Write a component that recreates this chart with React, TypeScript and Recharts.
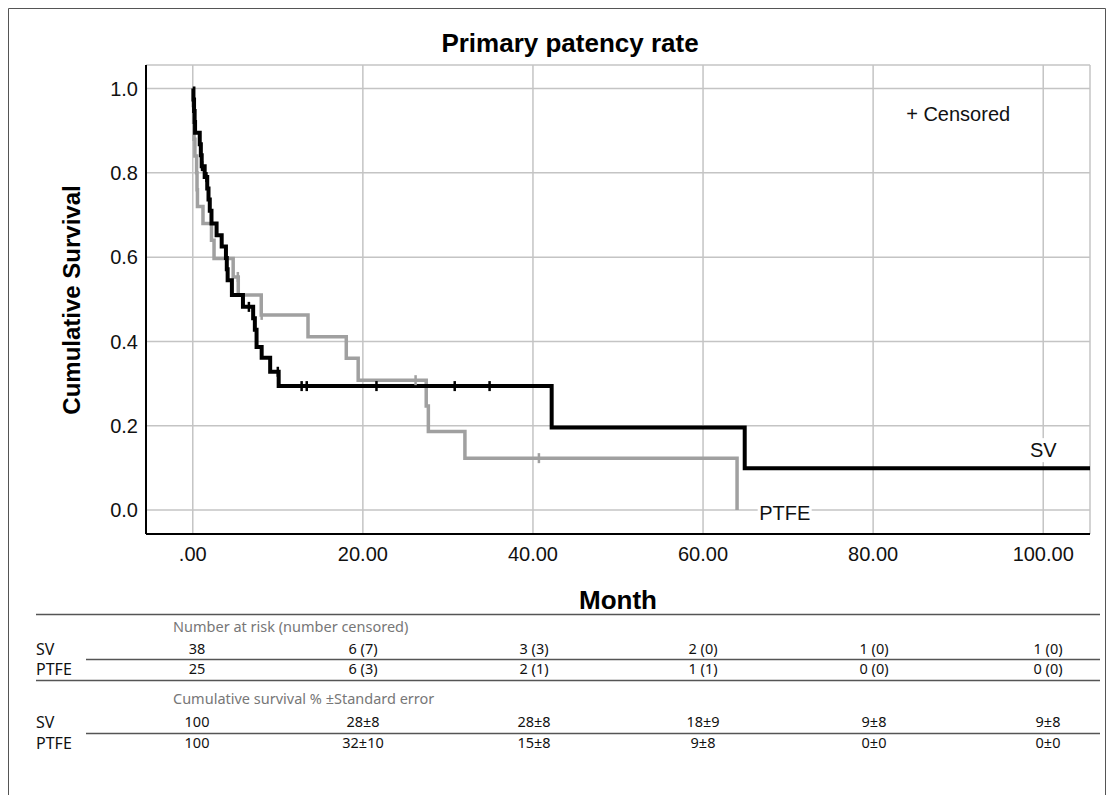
import React from 'react';
import {
  ComposedChart,
  Line,
  Scatter,
  XAxis,
  YAxis,
  CartesianGrid,
  ReferenceDot,
} from 'recharts';

// Kaplan-Meier steps (time in months, cumulative survival)
const svTime = [0, 0.08, 0.15, 0.22, 0.27, 0.82, 0.95, 1.05, 1.4, 1.7, 1.85, 2.0, 2.2, 2.8, 3.4, 3.9, 4.0, 4.1, 4.6, 5.9, 7.1, 7.3, 7.5, 8.1, 9.1, 10.1, 42.2, 64.9, 105.5];
const svSurv = [1.0, 0.974, 0.947, 0.921, 0.895, 0.868, 0.842, 0.816, 0.79, 0.763, 0.737, 0.71, 0.68, 0.652, 0.625, 0.598, 0.571, 0.545, 0.51, 0.482, 0.455, 0.428, 0.387, 0.361, 0.328, 0.294, 0.196, 0.099, 0.099];
const svCensorTime = [1.09, 1.61, 6.6, 10.0, 12.8, 13.4, 21.6, 30.8, 34.9];
const svCensorSurv = [0.816, 0.79, 0.482, 0.328, 0.294, 0.294, 0.294, 0.294, 0.294];

const ptfeTime = [0, 0.05, 0.1, 0.15, 0.25, 0.45, 0.5, 0.55, 1.2, 2.2, 2.5, 4.75, 5.35, 8.05, 13.55, 18.05, 19.45, 27.45, 27.7, 32.0, 64.0];
const ptfeSurv = [1.0, 0.96, 0.92, 0.88, 0.84, 0.8, 0.76, 0.72, 0.68, 0.64, 0.597, 0.553, 0.51, 0.463, 0.411, 0.36, 0.308, 0.247, 0.186, 0.123, 0.0];
const ptfeCensorTime = [5.3, 8.1, 26.2, 40.7];
const ptfeCensorSurv = [0.553, 0.463, 0.308, 0.123];

const xTicks = [0, 20, 40, 60, 80, 100];
const yTicks = [0, 0.2, 0.4, 0.6, 0.8, 1.0];

// risk table
const groups = ['SV', 'PTFE'];
const svAtRisk = ['38', '6 (7)', '3 (3)', '2 (0)', '1 (0)', '1 (0)'];
const ptfeAtRisk = ['25', '6 (3)', '2 (1)', '1 (1)', '0 (0)', '0 (0)'];
const svSurvPct = ['100', '28±8', '28±8', '18±9', '9±8', '9±8'];
const ptfeSurvPct = ['100', '32±10', '15±8', '9±8', '0±0', '0±0'];

const svData = svTime.map((t, i) => ({ t, s: svSurv[i] }));
const ptfeData = ptfeTime.map((t, i) => ({ t, s: ptfeSurv[i] }));
const svCensor = svCensorTime.map((t, i) => ({ t, s: svCensorSurv[i] }));
const ptfeCensor = ptfeCensorTime.map((t, i) => ({ t, s: ptfeCensorSurv[i] }));

const BLACK = '#000000';
const GREY = '#a0a0a0';
const CHART_FONT = '"Liberation Sans", Arial, sans-serif';
const TABLE_FONT = '"Noto Sans", "Open Sans", sans-serif';

const censorTick = (color: string) => (props: any) => {
  const { cx, cy } = props;
  if (cx == null || cy == null) return <g />;
  return <line x1={cx} x2={cx} y1={cy - 5} y2={cy + 5} stroke={color} strokeWidth={2.5} />;
};

const textLabel = (text: string, boxed: boolean) => (props: any) => {
  const { cx, cy } = props;
  const w = text.length * 12 + 6;
  return (
    <g>
      {boxed && <rect x={cx - w / 2} y={cy - 12} width={w} height={24} fill="#fff" />}
      <text x={cx} y={cy} dy="0.35em" textAnchor="middle" fontSize={20} fontFamily={CHART_FONT} fill="#111">
        {text}
      </text>
    </g>
  );
};

const colCenters = [197, 363, 534, 703, 874, 1048];

function RiskTable() {
  const rows = [
    { y: 649, label: groups[0], vals: svAtRisk },
    { y: 669, label: groups[1], vals: ptfeAtRisk },
    { y: 722, label: groups[0], vals: svSurvPct },
    { y: 743, label: groups[1], vals: ptfeSurvPct },
  ];
  return (
    <g fontFamily={TABLE_FONT}>
      <line x1={36} x2={1100} y1={614.5} y2={614.5} stroke="#555" strokeWidth={1.5} />
      <text x={173} y={627} dy="0.35em" fontSize={14.5} fill="#777">
        Number at risk (number censored)
      </text>
      <line x1={86} x2={1100} y1={659.5} y2={659.5} stroke="#555" strokeWidth={1.5} />
      <line x1={36} x2={1100} y1={680.5} y2={680.5} stroke="#555" strokeWidth={1.5} />
      <text x={173} y={699} dy="0.35em" fontSize={14.5} fill="#777">
        Cumulative survival % ±Standard error
      </text>
      <line x1={86} x2={1100} y1={733.5} y2={733.5} stroke="#555" strokeWidth={1.5} />
      {rows.map((r, ri) => (
        <g key={ri}>
          <text x={36} y={r.y} dy="0.35em" fontSize={16} fill="#111">
            {r.label}
          </text>
          {r.vals.map((v, i) => (
            <text key={i} x={colCenters[i]} y={r.y} dy="0.35em" textAnchor="middle" fontSize={14.5} fill="#111">
              {v}
            </text>
          ))}
        </g>
      ))}
    </g>
  );
}

export default function App() {
  return (
    <div style={{ position: 'absolute', left: 0, top: 0, width: 1114, height: 795, background: '#fff' }}>
      <ComposedChart
        width={1114}
        height={795}
        margin={{ top: 65, right: 24, bottom: 0, left: 0 }}
      >
        <CartesianGrid stroke="#c4c4c4" strokeWidth={1.5} />
        <XAxis
          type="number"
          dataKey="t"
          domain={[-5.5, 105.5]}
          ticks={xTicks}
          allowDataOverflow
          height={261}
          tickLine={false}
          tickSize={0}
          tickMargin={13}
          axisLine={{ stroke: '#000', strokeWidth: 2 }}
          tick={{ fontSize: 20, fontFamily: CHART_FONT, fill: '#111' }}
          tickFormatter={(v: number) => (v === 0 ? '.00' : v.toFixed(2))}
        />
        <YAxis
          type="number"
          dataKey="s"
          domain={[-0.057, 1.056]}
          ticks={yTicks}
          allowDataOverflow
          width={146}
          tickLine={false}
          tickSize={0}
          tickMargin={8}
          axisLine={{ stroke: '#000', strokeWidth: 2 }}
          tick={{ fontSize: 20, fontFamily: CHART_FONT, fill: '#111' }}
          tickFormatter={(v: number) => v.toFixed(1)}
        />
        <Line
          data={ptfeData}
          dataKey="s"
          type="stepAfter"
          stroke={GREY}
          strokeWidth={3.5}
          dot={false}
          isAnimationActive={false}
        />
        <Line
          data={svData}
          dataKey="s"
          type="stepAfter"
          stroke={BLACK}
          strokeWidth={4}
          dot={false}
          isAnimationActive={false}
        />
        <Scatter data={ptfeCensor} dataKey="s" shape={censorTick(GREY)} isAnimationActive={false} />
        <Scatter data={svCensor} dataKey="s" shape={censorTick(BLACK)} isAnimationActive={false} />
        <ReferenceDot x={100} y={0.142} r={0} ifOverflow="visible" shape={textLabel('SV', true)} />
        <ReferenceDot x={69.6} y={-0.007} r={0} ifOverflow="visible" shape={textLabel('PTFE', true)} />
        <ReferenceDot x={90} y={0.94} r={0} ifOverflow="visible" shape={textLabel('+ Censored', false)} />
      </ComposedChart>
      <svg
        width={1114}
        height={795}
        style={{ position: 'absolute', left: 0, top: 0, pointerEvents: 'none' }}
      >
        <polyline points="8.5,795 8.5,8.5 1105.5,8.5 1105.5,795" fill="none" stroke="#555" strokeWidth={1} />
        <text x={570} y={43} dy="0.35em" textAnchor="middle" fontSize={26} fontWeight="bold" fontFamily={CHART_FONT} fill="#000">
          Primary patency rate
        </text>
        <text
          x={72}
          y={300}
          dy="0.35em"
          textAnchor="middle"
          fontSize={24}
          fontWeight="bold"
          fontFamily={CHART_FONT}
          fill="#000"
          transform="rotate(-90 72 300)"
        >
          Cumulative Survival
        </text>
        <text x={618} y={600} dy="0.35em" textAnchor="middle" fontSize={26} fontWeight="bold" fontFamily={CHART_FONT} fill="#000">
          Month
        </text>
        <RiskTable />
      </svg>
    </div>
  );
}
